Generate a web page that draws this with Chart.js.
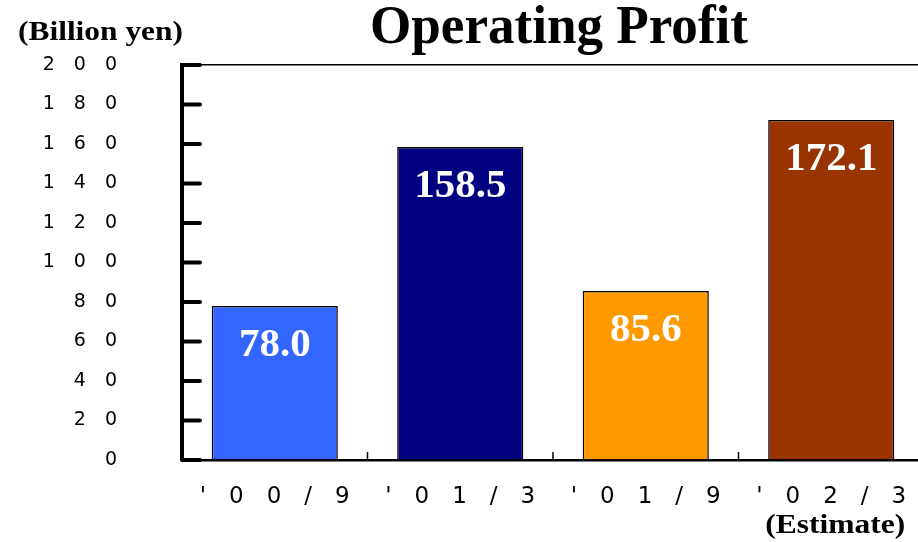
<!DOCTYPE html>
<html>
<head>
<meta charset="utf-8">
<script src="https://cdn.jsdelivr.net/npm/chart.js@4/dist/chart.umd.min.js"></script>
<style>
  html, body { margin: 0; padding: 0; background: #ffffff; overflow: hidden; }
  #wrap { width: 930px; height: 542px; }
</style>
</head>
<body>
<div id="wrap"><canvas id="c" width="930" height="542"></canvas></div>
<script>
// ---- data ----
const categories = ["'00/9", "'01/3", "'01/9", "'02/3"];
const profitValues = [78.0, 158.5, 85.6, 172.1];
const barColors = ["#3366FF", "#000080", "#FF9900", "#993300"];
const valueLabels = ["78.0", "158.5", "85.6", "172.1"];
const titleText = "Operating Profit";
const unitText = "(Billion yen)";
const noteText = "(Estimate)";
const noteCategoryIndex = 3;
const yMin = 0, yMax = 200, yStep = 20;

function spaced(s, sep) { return String(s).split('').join(sep); }

function drawStretched(ctx, text, x, y, font, width, align) {
  ctx.save();
  ctx.font = font;
  const w = ctx.measureText(text).width;
  const sx = width / w;
  ctx.textBaseline = 'alphabetic';
  ctx.textAlign = 'left';
  let left = x;
  if (align === 'center') left = x - width / 2;
  ctx.translate(left, y);
  ctx.scale(sx, 1);
  ctx.fillText(text, 0, 0);
  ctx.restore();
}

const decorPlugin = {
  id: 'decor',
  afterDatasetsDraw(chart) {
    const ctx = chart.ctx;
    const ys = chart.scales.y, xs = chart.scales.x;
    const area = chart.chartArea;
    ctx.save();
    ctx.strokeStyle = '#000';
    ctx.lineWidth = 4;
    ctx.lineCap = 'round';
    ys.ticks.forEach(t => {
      const py = ys.getPixelForValue(t.value);
      ctx.beginPath();
      ctx.moveTo(area.left, py);
      ctx.lineTo(area.left + 18, py);
      ctx.stroke();
    });
    ctx.lineWidth = 1.5;
    ctx.lineCap = 'butt';
    for (let i = 1; i < categories.length; i++) {
      const px = (xs.getPixelForValue(i - 1) + xs.getPixelForValue(i)) / 2;
      ctx.beginPath();
      ctx.moveTo(px, area.bottom);
      ctx.lineTo(px, area.bottom - 8);
      ctx.stroke();
    }
    ctx.fillStyle = '#ffffff';
    ctx.font = 'bold 41px "Liberation Serif", "Times New Roman", serif';
    ctx.textAlign = 'center';
    ctx.textBaseline = 'alphabetic';
    const meta = chart.getDatasetMeta(0);
    meta.data.forEach((bar, i) => {
      const top = ys.getPixelForValue(profitValues[i]);
      ctx.fillText(valueLabels[i], bar.x, top + 50);
    });
    ctx.restore();
  },
  afterDraw(chart) {
    const ctx = chart.ctx;
    const xs = chart.scales.x;
    ctx.save();
    ctx.fillStyle = '#000';
    drawStretched(ctx, titleText, 559, 43, 'bold 54px "Liberation Serif", "Times New Roman", serif', 378, 'center');
    drawStretched(ctx, unitText, 18, 40, 'bold 27px "Liberation Serif", "Times New Roman", serif', 165, 'left');
    drawStretched(ctx, noteText, xs.getPixelForValue(noteCategoryIndex) + 4, 533, 'bold 27px "Liberation Serif", "Times New Roman", serif', 140, 'center');
    ctx.restore();
  }
};

new Chart(document.getElementById('c'), {
  type: 'bar',
  data: {
    labels: categories,
    datasets: [{
      data: profitValues,
      backgroundColor: barColors,
      borderColor: '#000000',
      borderWidth: 1.5,
      categoryPercentage: 1.0,
      barPercentage: 0.68
    }]
  },
  options: {
    responsive: false,
    animation: false,
    devicePixelRatio: 1,
    layout: { padding: { top: 65, right: 6, left: 0, bottom: 0 } },
    plugins: { legend: { display: false }, tooltip: { enabled: false }, title: { display: false } },
    scales: {
      x: {
        afterFit(s) { s.height = 82; s.paddingLeft = 0; s.paddingRight = 0; },
        grid: { display: false, drawTicks: false },
        border: { display: true, color: '#000', width: 2.5 },
        ticks: {
          color: '#000',
          padding: 23,
          font: { family: '"DejaVu Sans", sans-serif', size: 23 },
          callback(v, i) { return spaced(categories[i], '\u2003'); }
        }
      },
      y: {
        min: yMin, max: yMax,
        afterFit(s) { s.width = 182; s.paddingTop = 0; s.paddingBottom = 0; },
        grid: {
          drawTicks: false,
          lineWidth: 1.5,
          color: (c) => (c.tick && c.tick.value === yMax) ? '#000' : 'rgba(0,0,0,0)'
        },
        border: { display: true, color: '#000', width: 4 },
        ticks: {
          stepSize: yStep,
          color: '#000',
          padding: 65,
          font: { family: '"DejaVu Sans", sans-serif', size: 19 },
          callback(v) { return spaced(v, '\u2003'); }
        }
      }
    }
  },
  plugins: [decorPlugin]
});
</script>
</body>
</html>
